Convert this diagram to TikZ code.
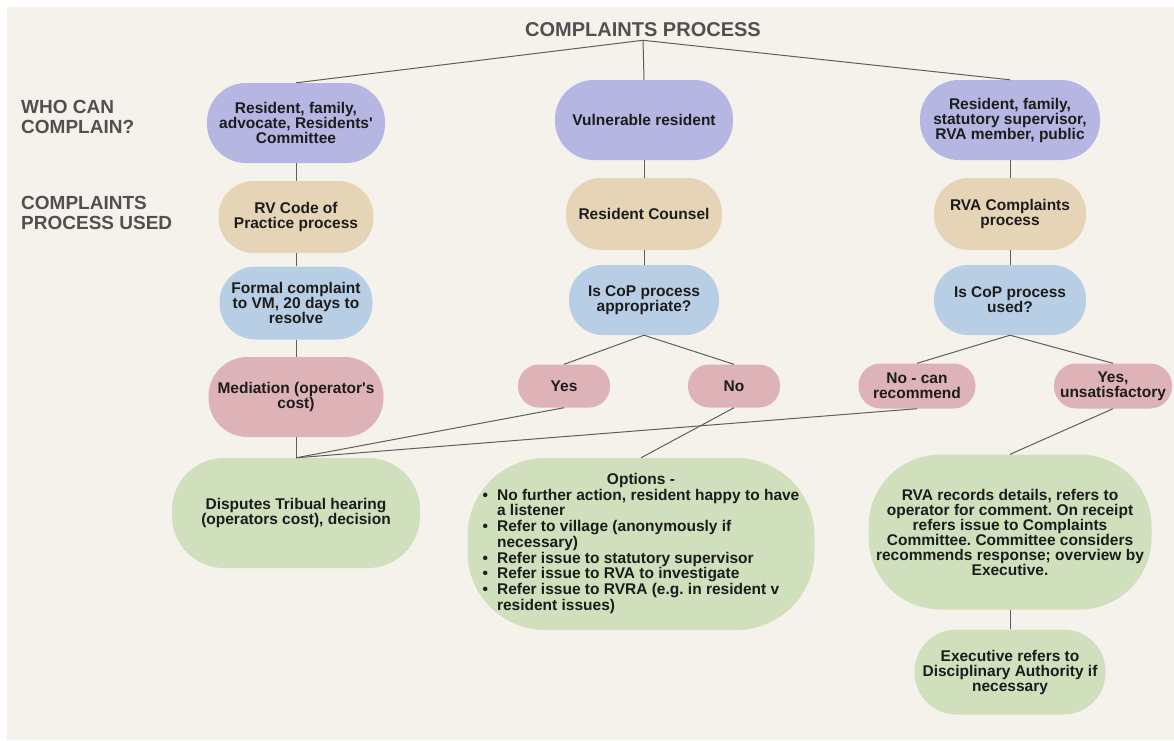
\documentclass[tikz,border=0pt]{standalone}
\usepackage{fontspec}
\usepackage{xcolor}
\setmainfont{Liberation Sans}
\frenchspacing

\definecolor{bgpaper}{HTML}{F5F2EC}
\definecolor{cpurple}{HTML}{B5B6E2}
\definecolor{ctan}{HTML}{E6D4B6}
\definecolor{cblue}{HTML}{B8CEE4}
\definecolor{cpink}{HTML}{DEB3B8}
\definecolor{cgreen}{HTML}{D0DFBC}
\definecolor{inkdark}{HTML}{1C1C1C}
\definecolor{inkgray}{HTML}{505050}
\definecolor{wire}{HTML}{5E5E5E}

\newcommand{\boxfont}{\bfseries\fontsize{15.5}{15}\selectfont}
\newcommand{\sidefont}{\bfseries\fontsize{19}{20}\selectfont}

\begin{document}
\begin{tikzpicture}[x=1pt,y=-1pt,
  box/.style={fill=#1,inner sep=0pt,align=center,font=\boxfont,text=inkdark},
  dim/.style n args={3}{minimum width=#1pt,minimum height=#2pt,rounded corners=#3pt},
  side/.style={align=left,inner sep=0pt,font=\sidefont,text=inkgray},
  link/.style={draw=wire,line width=1pt}]
  \useasboundingbox (0,0) rectangle (1174,740);
  \fill[white] (0,0) rectangle (1174,740);
  \fill[bgpaper] (7,7) rectangle (1174,740);

  \node[font=\bfseries\fontsize{20}{22}\selectfont,text=inkgray,inner sep=3pt] (title) at (643,30) {COMPLAINTS PROCESS};
  \node[side,anchor=west] (who) at (21,117) {WHO CAN\\COMPLAIN?};
  \node[side,anchor=west] (used) at (21,213) {COMPLAINTS\\PROCESS USED};

  % who can complain
  \node[box=cpurple,dim={178}{80}{39}] (resA) at (296,123) {Resident, family,\\advocate, Residents\textquotesingle\\Committee};
  \node[box=cpurple,dim={178}{80}{39}] (vuln) at (644,120) {Vulnerable resident};
  \node[box=cpurple,dim={180}{80}{39}] (resC) at (1010,120) {Resident, family,\\statutory supervisor,\\RVA member, public};

  % process used
  \node[box=ctan,dim={155}{72}{35}] (code) at (296,217) {RV Code of\\Practice process};
  \node[box=ctan,dim={156}{72}{35}] (counsel) at (644,214) {Resident Counsel};
  \node[box=ctan,dim={152}{72}{35}] (rvaproc) at (1010,214) {RVA Complaints\\process};

  \node[box=cblue,dim={153}{73}{36}] (formal) at (296,303) {Formal complaint\\to VM, 20 days to\\resolve};
  \node[box=cblue,dim={150}{70}{34}] (copA) at (644,300) {Is CoP process\\appropriate?};
  \node[box=cblue,dim={152}{70}{34}] (copU) at (1010,300) {Is CoP process\\used?};

  \node[box=cpink,dim={175}{80}{39}] (mediation) at (296,397) {Mediation (operator\textquotesingle s\\cost)};
  \node[box=cpink,dim={92}{43}{21}] (yes) at (564,386) {Yes};
  \node[box=cpink,dim={92}{43}{21}] (no) at (734,386) {No};
  \node[box=cpink,dim={117}{45}{22}] (rec) at (917,386) {No - can\\recommend};
  \node[box=cpink,dim={118}{45}{22}] (unsat) at (1113,386) {Yes,\\unsatisfactory};

  % outcomes
  \node[box=cgreen,dim={248}{110}{52}] (tribunal) at (296,513) {Disputes Tribual hearing\\(operators cost), decision};
  \node[box=cgreen,dim={347}{172}{78}] (options) at (641,544) {%
    \begin{tabular}{@{}l@{\hspace{9pt}}l@{}}
      \multicolumn{2}{c}{Options -}\\
      \textbullet & No further action, resident happy to have\\
                  & a listener\\
      \textbullet & Refer to village (anonymously if\\
                  & necessary)\\
      \textbullet & Refer issue to statutory supervisor\\
      \textbullet & Refer issue to RVA to investigate\\
      \textbullet & Refer issue to RVRA (e.g. in resident v\\
                  & resident issues)
    \end{tabular}};
  \node[box=cgreen,dim={283}{155}{72}] (records) at (1010,532) {RVA records details, refers to\\operator for comment. On receipt\\refers issue to Complaints\\Committee. Committee considers\\recommends response; overview by\\Executive.};
  \node[box=cgreen,dim={191}{85}{42}] (discip) at (1010,672) {Executive refers to\\Disciplinary Authority if\\necessary};

  \foreach \a/\b in {title/resA,title/vuln,title/resC,resA/code,code/formal,formal/mediation,mediation/tribunal,
                     vuln/counsel,counsel/copA,resC/rvaproc,rvaproc/copU,copA/yes,copA/no,copU/rec,copU/unsat,
                     yes/tribunal,rec/tribunal,no/options,unsat/records,records/discip} {
    \draw[link] (\a.south) -- (\b.north);
  }
\end{tikzpicture}
\end{document}
